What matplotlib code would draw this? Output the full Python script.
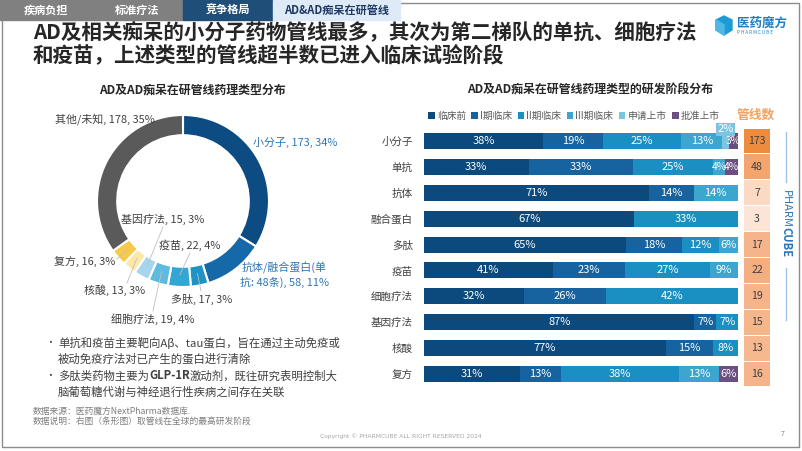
import matplotlib
matplotlib.use("Agg")
import matplotlib.pyplot as plt
import numpy as np
from matplotlib.patches import Rectangle, Polygon

plt.rcParams['font.family'] = ['Noto Sans CJK SC', 'DejaVu Sans']

# ---------------- data ----------------
pie_names = ['小分子', '抗体/融合蛋白(单抗: 48条)', '多肽', '疫苗', '细胞疗法',
             '基因疗法', '核酸', '复方', '其他/未知']
pie_values = [173, 58, 17, 22, 19, 15, 13, 16, 178]

categories = ['小分子', '单抗', '抗体', '融合蛋白', '多肽', '疫苗',
              '细胞疗法', '基因疗法', '核酸', '复方']
stage_names = ['临床前', 'I期临床', 'II期临床', 'III期临床', '申请上市', '批准上市']
preclinical = [38, 33, 71, 67, 65, 41, 32, 87, 77, 31]
phase1 = [19, 33, 14, 0, 18, 23, 26, 7, 15, 13]
phase2 = [25, 25, 0, 33, 12, 27, 42, 7, 8, 38]
phase3 = [13, 4, 14, 0, 6, 9, 0, 0, 0, 13]
filed = [2, 0, 0, 0, 0, 0, 0, 0, 0, 0]
approved = [3, 4, 0, 0, 0, 0, 0, 0, 0, 6]
pipeline_counts = [173, 48, 7, 3, 17, 22, 19, 15, 13, 16]

# ---------------- styles ----------------
pie_colors = ['#0c4c82', '#1669a8', '#1d93c6', '#33a6d3', '#5fbadf',
              '#a5d6ed', '#fce7a6', '#f7c948', '#5a5a5a']
stage_colors = ['#0c4a7e', '#16639f', '#1a8fc2', '#3da6cf', '#7cc5e2', '#6a4f80']
count_colors = ['#ed8b3f', '#f3a56d', '#fbdac3', '#fce5d6', '#f5b48a',
                '#f4ae80', '#f5b48a', '#f5b68c', '#f6b98f', '#f5b48a']

W, H = 802, 451
fig = plt.figure(figsize=(W / 100, H / 100), dpi=100)
fig.patch.set_facecolor('white')


def px_axes(x0, y0, x1, y1):
    return fig.add_axes([x0 / W, 1 - y1 / H, (x1 - x0) / W, (y1 - y0) / H])


# overlay axes in pixel coordinates (drawn on top)
bg = fig.add_axes([0, 0, 1, 1])
bg.set_xlim(0, W)
bg.set_ylim(H, 0)
bg.axis('off')
bg.set_zorder(10)

# frame and tabs
bg.add_patch(Rectangle((2, 3), 797, 444, fill=False, ec='#8c8c8c', lw=1))
bg.add_patch(Rectangle((0, 0), 183, 20, color='#808080'))
bg.add_patch(Rectangle((183, 0), 90, 20, color='#1f4e79'))
bg.add_patch(Rectangle((273, 0), 127, 20, color='#deebf7'))
for x, t, c in [(46, '疾病负担', 'white'), (137, '标准疗法', 'white'),
                (228, '竞争格局', 'white'), (337, 'AD&AD痴呆在研管线', '#1f3864')]:
    bg.text(x, 10.5, t, ha='center', va='center', fontsize=8, color=c,
            fontweight='bold')

# title
bg.text(33, 33, 'AD及相关痴呆的小分子药物管线最多，其次为第二梯队的单抗、细胞疗法',
        ha='left', va='center', fontsize=14.8, fontweight='bold', color='#262626')
bg.text(33, 55, '和疫苗，上述类型的管线超半数已进入临床试验阶段',
        ha='left', va='center', fontsize=14.8, fontweight='bold', color='#262626')

# logo
hexpts = [(724, 16), (732, 20), (732, 30), (724, 35), (716, 30), (716, 20)]
bg.add_patch(Polygon(hexpts, closed=True, color='#1e9bd7'))
bg.add_patch(Polygon([(716, 20), (724, 25), (724, 35), (716, 30)], closed=True, color='#4fb8e6'))
bg.text(737, 23, '医药魔方', ha='left', va='center', fontsize=9, fontweight='bold', color='#1f7fc4')
bg.text(737, 33, 'P H A R M C U B E', ha='left', va='center', fontsize=3.3, color='#1f7fc4')

# subtitles
bg.text(192, 90, 'AD及AD痴呆在研管线药理类型分布', ha='center', va='center',
        fontsize=8.6, fontweight='bold', color='#262626')
bg.text(590, 90, 'AD及AD痴呆在研管线药理类型的研发阶段分布', ha='center', va='center',
        fontsize=8.6, fontweight='bold', color='#262626')

# ---------------- donut ----------------
cx, cy, R = 183, 201, 86
axp = px_axes(cx - R, cy - R, cx + R, cy + R)
axp.pie(pie_values, colors=pie_colors, startangle=90, counterclock=False,
        wedgeprops=dict(width=0.235, edgecolor='white', linewidth=1.5))
axp.set_xlim(-1, 1)
axp.set_ylim(-1, 1)
axp.axis('off')

total = sum(pie_values)
pcts = [round(v / total * 100) for v in pie_values]
labels = [f'{n}, {v}, {p}%' for n, v, p in zip(pie_names, pie_values, pcts)]
labels[1] = labels[1].replace('(单抗', '(单\n抗')

# label layout: (x, y, ha, color, leader start or None)
label_layout = [
    (253, 142, 'left', '#2e75b6', None),
    (284, 275, 'center', '#2e75b6', None),
    (202, 299, 'center', '#404040', (201, 291)),
    (190, 245, 'center', '#404040', (190, 253)),
    (153, 319, 'center', '#404040', (153, 311)),
    (163, 219, 'center', '#404040', (163, 227)),
    (115, 290, 'center', '#404040', (127, 283)),
    (115, 261, 'right', '#404040', (117, 259)),
    (55, 119, 'left', '#404040', None),
]
cum = np.cumsum([0] + pie_values)
for i, (lab, lay) in enumerate(zip(labels, label_layout)):
    x, y, ha, col, ls = lay
    bg.text(x, y, lab, ha=ha, va='center', fontsize=7.9, color=col,
            linespacing=1.35)
    if ls is not None:
        frac = (cum[i] + pie_values[i] / 2) / total
        th = np.deg2rad(90 - 360 * frac)
        ex = cx + R * 0.86 * np.cos(th)
        ey = cy - R * 0.86 * np.sin(th)
        bg.plot([ls[0], ex], [ls[1], ey], color='#bfbfbf', lw=0.6)

# bullet text
bullet_col = '#404040'
bg.text(50, 343, '•', ha='center', va='center', fontsize=7, color=bullet_col)
bg.text(58, 343, '单抗和疫苗主要靶向Aβ、tau蛋白，旨在通过主动免疫或',
        ha='left', va='center', fontsize=8.2, color=bullet_col)
bg.text(58, 359, '被动免疫疗法对已产生的蛋白进行清除',
        ha='left', va='center', fontsize=8.2, color=bullet_col)
bg.text(50, 376, '•', ha='center', va='center', fontsize=7, color=bullet_col)
t1 = bg.text(58, 376, '多肽类药物主要为', ha='left', va='center', fontsize=8.2, color=bullet_col)
t2 = bg.annotate('GLP-1R', xy=(1, 0), xycoords=t1, ha='left', va='bottom',
                 fontsize=8.2, color=bullet_col, fontweight='bold')
bg.annotate('激动剂，既往研究表明控制大', xy=(1, 0), xycoords=t2, ha='left', va='bottom',
            fontsize=8.2, color=bullet_col)
bg.text(58, 392, '脑葡萄糖代谢与神经退行性疾病之间存在关联',
        ha='left', va='center', fontsize=8.2, color=bullet_col)

bg.text(33, 411, '数据来源：医药魔方NextPharma数据库.', ha='left', va='center',
        fontsize=6.3, color='#7f7f7f')
bg.text(33, 421, '数据说明：右图（条形图）取管线在全球的最高研发阶段', ha='left', va='center',
        fontsize=6.3, color='#7f7f7f')
bg.text(401, 436, 'Copyright © PHARMCUBE ALL RIGHT RESERVED 2024', ha='center',
        va='center', fontsize=4.3, color='#a6a6a6', family='DejaVu Sans')
bg.text(783, 434, '7', ha='center', va='center', fontsize=5, color='#7f7f7f')

# ---------------- stacked bars ----------------
ax = px_axes(424, 128, 738, 387)
stages = [preclinical, phase1, phase2, phase3, filed, approved]
data = np.array(stages, dtype=float)
row_sum = data.sum(axis=0)
norm = data / row_sum * 100
ypos = np.arange(len(categories))
left = np.zeros(len(categories))
handles = []
for s, (vals, col) in enumerate(zip(norm, stage_colors)):
    b = ax.barh(ypos, vals, left=left, height=0.62, color=col, linewidth=0)
    handles.append(b)
    for i, v in enumerate(vals):
        raw = stages[s][i]
        if raw <= 0:
            continue
        xc = left[i] + v / 2
        if raw <= 2:
            ax.text(xc, i - 0.45, f'{raw}%', ha='center', va='center', fontsize=8,
                    color='white', zorder=5,
                    bbox=dict(boxstyle='square,pad=0.12', fc=col, ec='none'))
        else:
            ax.text(xc, i, f'{raw}%', ha='center', va='center',
                    fontsize=7.4 if raw <= 4 else 8, color='white', zorder=5)
    left += vals
ax.set_xlim(0, 100)
ax.set_ylim(len(categories) - 0.5, -0.5)
ax.set_yticks(ypos)
ax.set_yticklabels(categories, fontsize=7.6, color='#404040')
ax.tick_params(axis='y', length=0, pad=8)
ax.set_xticks([])
for sp in ax.spines.values():
    sp.set_visible(False)
ax.patch.set_alpha(0)

fig.legend(handles, stage_names, ncol=6, loc='center left',
           bbox_to_anchor=(428 / W, 1 - 116 / H), frameon=False, fontsize=7.0,
           labelcolor='#595959', handlelength=0.7, handleheight=0.7,
           handletextpad=0.2, columnspacing=0.55, borderaxespad=0, borderpad=0)

# pipeline counts
axc = px_axes(744, 128, 770, 387)
axc.barh(ypos, [1] * len(pipeline_counts), height=0.955, color=count_colors, linewidth=0)
for i, c in enumerate(pipeline_counts):
    axc.text(0.5, i, str(c), ha='center', va='center', fontsize=7.6, color='#404040')
axc.set_xlim(0, 1)
axc.set_ylim(len(categories) - 0.5, -0.5)
axc.axis('off')
bg.text(756, 115, '管线数', ha='center', va='center', fontsize=9.2, color='#f2a262',
        fontweight='bold')

# side brand
bg.plot([786, 786], [132, 182], color='#9dc3e6', lw=1)
bg.plot([786, 786], [268, 320], color='#9dc3e6', lw=1)
tp = bg.text(786, 190, 'PHARM', rotation=-90, ha='center', va='top', fontsize=8,
             color='#2e75b6')
bg.annotate('CUBE', xy=(0.5, 0), xycoords=tp, xytext=(0, 1), textcoords='offset pixels',
            rotation=-90, ha='center', va='top',
            fontsize=8, color='#2e75b6', fontweight='bold')

fig.savefig('out.png', dpi=100, facecolor='white')
